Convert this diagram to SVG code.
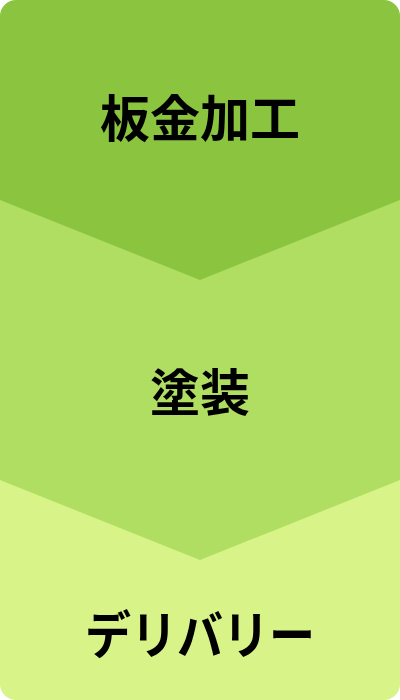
<svg xmlns="http://www.w3.org/2000/svg" width="400" height="700" viewBox="0 0 400 700">
<style>
.lbl{font-family:"Noto Sans CJK JP","Noto Sans CJK SC",sans-serif;font-weight:bold;font-size:50px;fill:#000;text-anchor:middle;dominant-baseline:central}
.sm{font-size:47px}
</style>
<defs>
<clipPath id="card"><rect x="0" y="0" width="400" height="700" rx="16" ry="16"/></clipPath>
</defs>
<g clip-path="url(#card)">
<g id="step3">
<rect x="0" y="400" width="400" height="300" fill="#d8f488"/>
<text class="lbl sm" x="0" y="0" transform="translate(200,631) scale(0.98,1.1)">デリバリー</text>
</g>
<g id="step2">
<polygon points="0,180 400,180 400,480 200,560 0,480" fill="#b0de62"/>
<text class="lbl" x="200" y="389">塗装</text>
</g>
<g id="step1">
<polygon points="0,0 400,0 400,200 200,280 0,200" fill="#8bc53f"/>
<text class="lbl" x="200" y="115">板金加工</text>
</g>
</g>
<g id="connectors"></g>
</svg>
